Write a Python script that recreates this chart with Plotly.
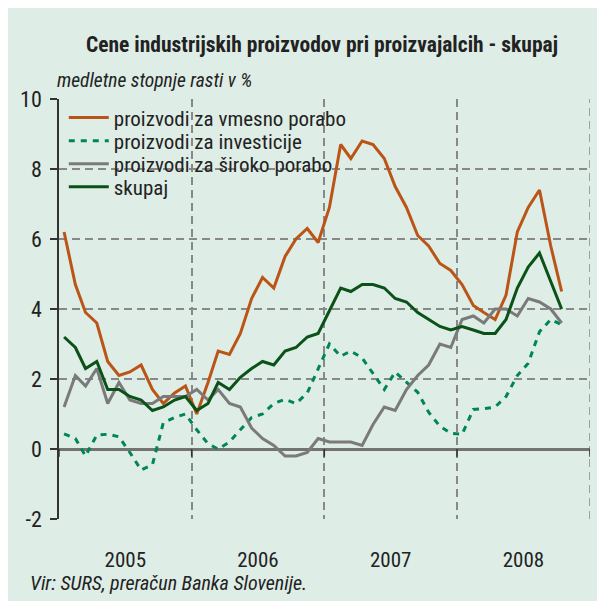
import pandas as pd
import plotly.graph_objects as go

# ---- data (year-on-year growth, %), monthly Jan 2005 - Oct 2008 ----
months = pd.date_range("2005-01-01", "2008-10-01", freq="MS") + pd.Timedelta(days=14)

vmesno = [6.2, 4.7, 3.9, 3.6, 2.5, 2.1, 2.2, 2.4, 1.7, 1.3, 1.6, 1.8,
          1.0, 1.9, 2.8, 2.7, 3.3, 4.3, 4.9, 4.6, 5.5, 6.0, 6.3, 5.9,
          6.9, 8.7, 8.3, 8.8, 8.7, 8.3, 7.5, 6.9, 6.1, 5.8, 5.3, 5.1,
          4.7, 4.1, 3.9, 3.7, 4.4, 6.2, 6.9, 7.4, 5.8, 4.5]
investicije = [0.43, 0.3, -0.2, 0.4, 0.42, 0.35, -0.1, -0.6, -0.45, 0.75, 0.9, 1.0,
               0.55, 0.15, 0.0, 0.2, 0.55, 0.9, 1.0, 1.3, 1.42, 1.3, 1.6, 2.3,
               3.0, 2.65, 2.8, 2.6, 2.15, 1.7, 2.2, 1.9, 1.62, 1.05, 0.65, 0.45,
               0.42, 1.13, 1.15, 1.2, 1.5, 2.1, 2.45, 3.35, 3.7, 3.55]
siroko = [1.2, 2.1, 1.8, 2.3, 1.3, 1.9, 1.4, 1.3, 1.3, 1.5, 1.5, 1.5,
          1.7, 1.4, 1.7, 1.3, 1.2, 0.6, 0.3, 0.1, -0.2, -0.2, -0.1, 0.3,
          0.2, 0.2, 0.2, 0.1, 0.7, 1.2, 1.1, 1.7, 2.1, 2.4, 3.0, 2.9,
          3.7, 3.8, 3.6, 4.0, 4.0, 3.8, 4.3, 4.2, 4.0, 3.6]
skupaj = [3.2, 2.9, 2.3, 2.5, 1.7, 1.7, 1.5, 1.4, 1.1, 1.2, 1.4, 1.5,
          1.1, 1.3, 1.9, 1.7, 2.05, 2.3, 2.5, 2.4, 2.8, 2.9, 3.2, 3.3,
          3.95, 4.6, 4.5, 4.7, 4.7, 4.6, 4.3, 4.2, 3.9, 3.7, 3.5, 3.4,
          3.5, 3.4, 3.3, 3.3, 3.7, 4.6, 5.2, 5.6, 4.8, 4.0]

series_names = ["proizvodi za vmesno porabo", "proizvodi za investicije",
                "proizvodi za široko porabo", "skupaj"]
year_ticks = ["2005-01-01", "2006-01-01", "2007-01-01", "2008-01-01", "2009-01-01"]
y_tickvals = [-2, 0, 2, 4, 6, 8, 10]
y_ticktext = ["-2", "0", "2", "4", "6", "8", "10"]

BG = "#deede6"
FONT = "Roboto Condensed, Liberation Sans Narrow, Arial Narrow, sans-serif"
TXT = "#222222"
GRID = "#888888"
GRID_DASH = "8px,5px"

styles = [dict(color="#bb5517", width=3),
          dict(color="#008555", width=3, dash="6px,6px"),
          dict(color="#7a7a7a", width=3),
          dict(color="#0a5218", width=3)]
legend_ids = ["legend", "legend2", "legend3", "legend4"]
legend_rows_y = [0.955, 0.900, 0.845, 0.790]

fig = go.Figure()
for vals, name, st, lid in zip([vmesno, investicije, siroko, skupaj],
                               series_names, styles, legend_ids):
    fig.add_trace(go.Scatter(x=months, y=vals, name=name, mode="lines",
                             line=st, legend=lid))

# background patch under the legend (hides grid lines, not the data)
fig.add_shape(type="rect", xref="paper", yref="paper", x0=0.003, x1=0.586,
              y0=0.743, y1=0.985, fillcolor=BG, line=dict(width=0),
              layer="between")

# right-hand boundary grid line (end of 2008)
fig.add_shape(type="line", xref="x", yref="paper", x0=year_ticks[-1],
              x1=year_ticks[-1], y0=0, y1=1, layer="below",
              line=dict(color=GRID, width=1.5, dash=GRID_DASH))

# small tick marks on the zero line at year boundaries
for d in year_ticks:
    fig.add_shape(type="line", x0=d, x1=d, y0=0, y1=-0.22, xref="x", yref="y",
                  line=dict(color="#333333", width=1.5))

legend_common = dict(x=0.009, xanchor="left", yanchor="middle",
                     bgcolor="rgba(0,0,0,0)",
                     font=dict(size=21, family=FONT, color=TXT),
                     itemwidth=40)
layout_legends = {}
for lid, ly in zip(legend_ids, legend_rows_y):
    layout_legends[lid] = dict(legend_common, y=ly)

fig.update_layout(
    width=605, height=601,
    margin=dict(l=46, r=23, t=91, b=90),
    paper_bgcolor=BG, plot_bgcolor=BG,
    font=dict(family=FONT, color=TXT, size=21),
    showlegend=True,
    **layout_legends,
    xaxis=dict(type="date", range=["2005-01-01", "2009-01-01"],
               dtick="M12", tick0="2005-01-01", ticklabelmode="period",
               tickformat="%Y", showgrid=True, gridcolor=GRID,
               griddash=GRID_DASH, gridwidth=1.5, ticks="", showline=False,
               zeroline=False, ticklabelstandoff=26,
               tickfont=dict(size=21, family=FONT, color=TXT)),
    yaxis=dict(range=[-2, 10], tickvals=y_tickvals, ticktext=y_ticktext,
               showgrid=True, gridcolor=GRID, griddash=GRID_DASH, gridwidth=1.5,
               zeroline=True, zerolinecolor="#737373", zerolinewidth=2.5,
               showline=True, linecolor="#333333", linewidth=1.5,
               ticks="outside", ticklen=7, tickcolor="#333333", tickwidth=1.5,
               ticklabelstandoff=4,
               tickfont=dict(size=22, family=FONT, color=TXT)),
    annotations=[
        dict(text="<b>Cene industrijskih proizvodov pri proizvajalcih - skupaj</b>",
             xref="paper", yref="paper", x=0.496, y=1.129, xanchor="center",
             yanchor="middle", showarrow=False,
             font=dict(size=21.5, family=FONT, color=TXT)),
        dict(text="<i>medletne stopnje rasti v %</i>", xref="paper", yref="paper",
             x=-0.008, y=1.045, xanchor="left", yanchor="middle", showarrow=False,
             font=dict(size=19.5, family=FONT, color=TXT)),
        dict(text="<i>Vir: SURS, preračun Banka Slovenije.</i>", xref="paper",
             yref="paper", x=-0.058, y=-0.152, xanchor="left", yanchor="middle",
             showarrow=False, font=dict(size=20, family=FONT, color=TXT)),
    ],
)

fig.write_html("out.html")
